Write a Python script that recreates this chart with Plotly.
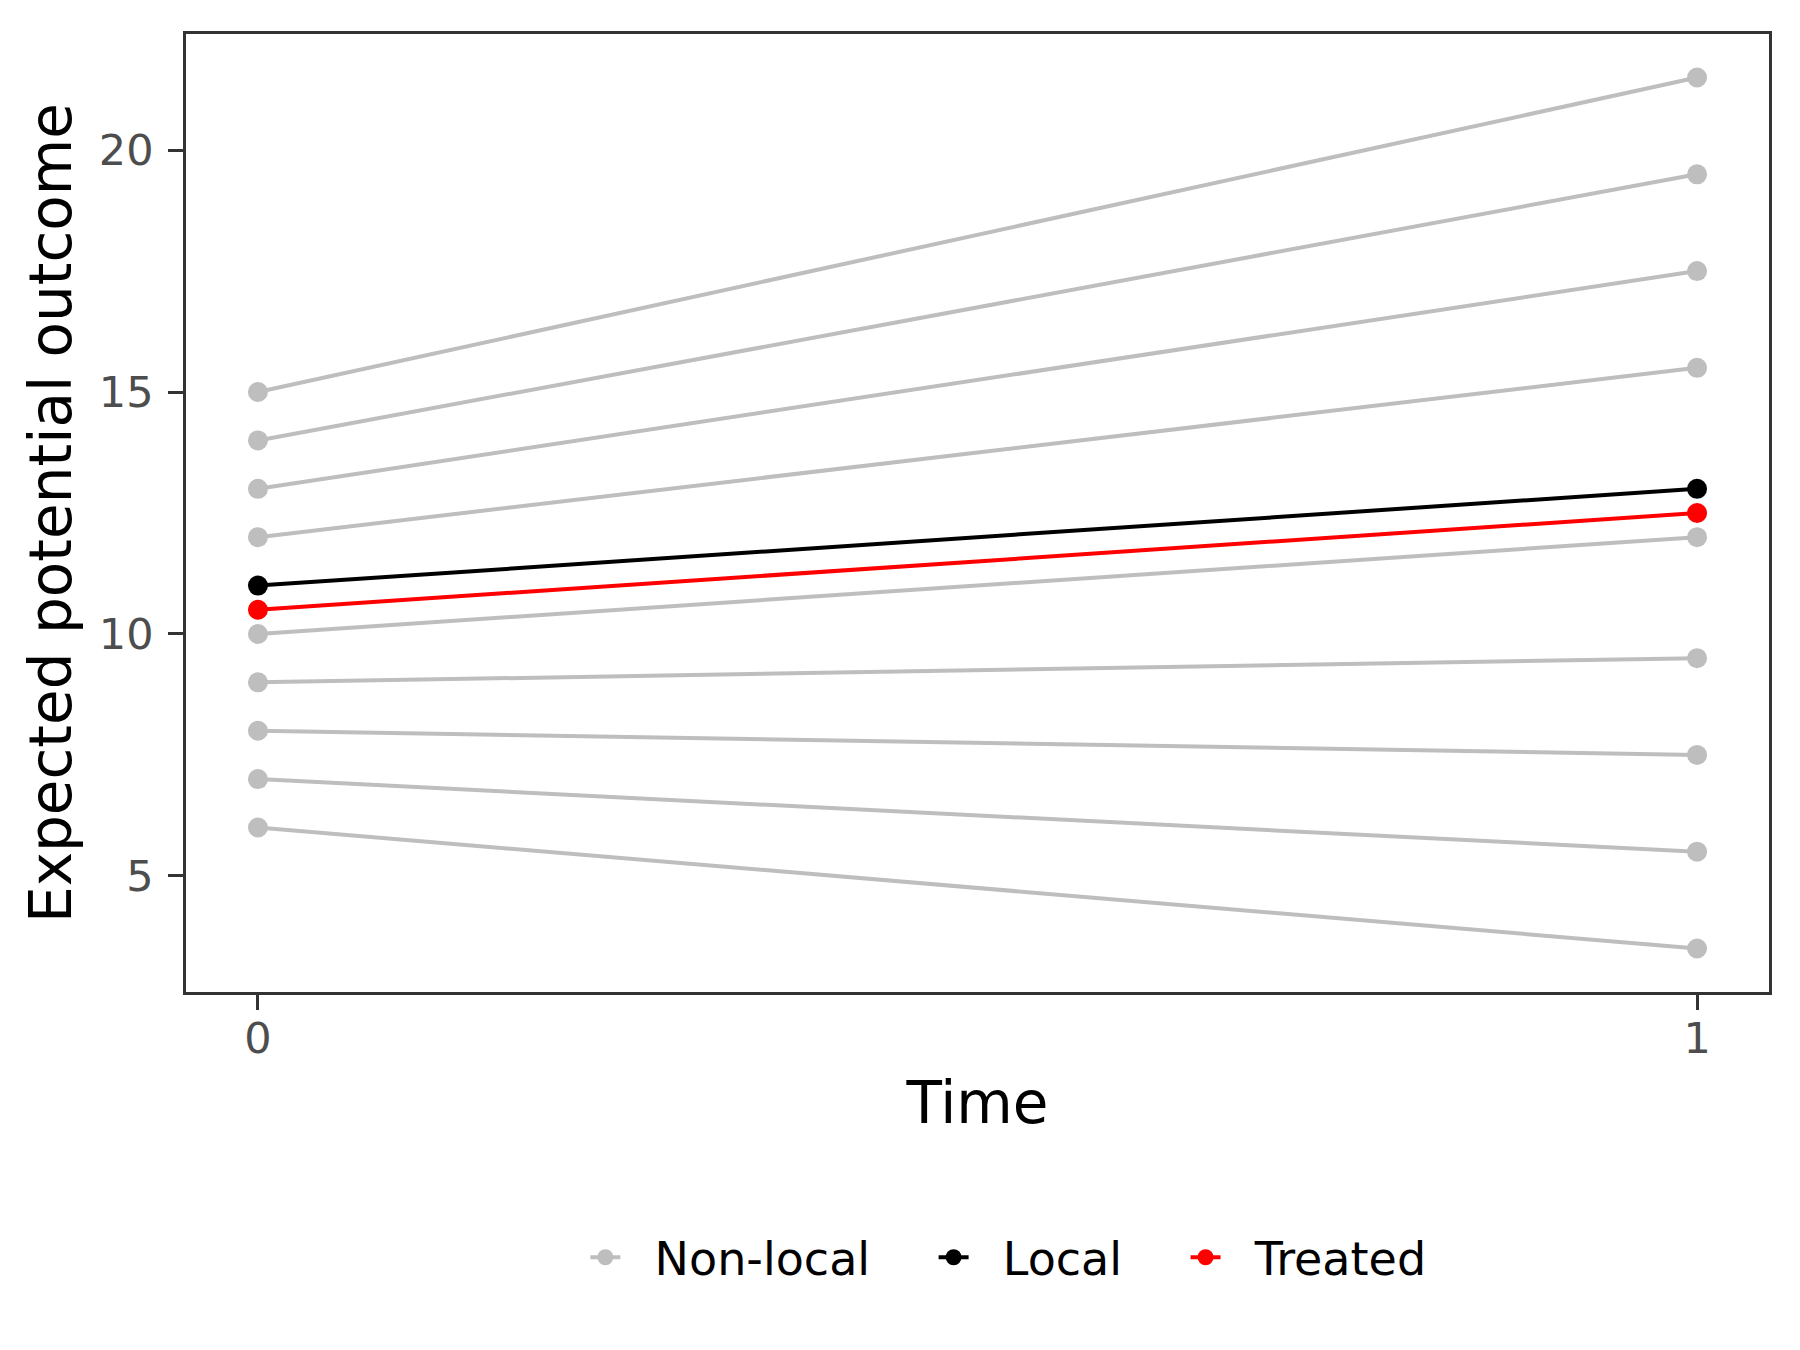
import plotly.graph_objects as go

time = [0, 1]
nonlocal_t0 = [15, 14, 13, 12, 10, 9, 8, 7, 6]
nonlocal_t1 = [21.5, 19.5, 17.5, 15.5, 12, 9.5, 7.5, 5.5, 3.5]
local_vals = [11, 13]
treated_vals = [10.5, 12.5]
y_ticks = [5, 10, 15, 20]
x_ticks = [0, 1]

FONT = "DejaVu Sans"
LW = 4
MS = 20
fig = go.Figure()

for i, (a, b) in enumerate(zip(nonlocal_t0, nonlocal_t1)):
    fig.add_trace(go.Scatter(
        x=time, y=[a, b], mode="lines+markers", name="  Non-local    ",
        legendgroup="nl", showlegend=(i == 0),
        line=dict(color="#BEBEBE", width=LW),
        marker=dict(color="#BEBEBE", size=MS),
    ))

fig.add_trace(go.Scatter(
    x=time, y=local_vals, mode="lines+markers", name="  Local    ",
    line=dict(color="black", width=LW), marker=dict(color="black", size=MS),
))
fig.add_trace(go.Scatter(
    x=time, y=treated_vals, mode="lines+markers", name="  Treated",
    line=dict(color="#FF0000", width=LW), marker=dict(color="#FF0000", size=MS),
))

fig.update_layout(
    width=1800, height=1350,
    paper_bgcolor="white", plot_bgcolor="white",
    margin=dict(l=178, r=39, t=26, b=366, autoexpand=False),
    font=dict(family=FONT, color="black"),
    legend=dict(
        orientation="h", x=0.5195, xanchor="center", y=-0.277, yanchor="middle",
        font=dict(size=46, family=FONT, color="black"),
        traceorder="normal",
    ),
    xaxis=dict(
        range=[-0.05, 1.05], tickvals=x_ticks, ticktext=[str(v) for v in x_ticks],
        showgrid=False, zeroline=False, automargin=False,
        showline=True, linecolor="#333333", linewidth=2.7, mirror=True,
        ticks="outside", ticklen=15, tickwidth=2.7, tickcolor="#333333",
        ticklabelstandoff=-8,
        tickfont=dict(size=43, family=FONT, color="#4D4D4D"),
        title=dict(text="Time", font=dict(size=58, family=FONT, color="black"), standoff=20),
    ),
    yaxis=dict(
        range=[2.6, 22.4], tickvals=y_ticks, ticktext=[str(v) for v in y_ticks],
        showgrid=False, zeroline=False, automargin=False,
        showline=True, linecolor="#333333", linewidth=2.7, mirror=True,
        ticks="outside", ticklen=15, tickwidth=2.7, tickcolor="#333333",
        ticklabelstandoff=6,
        tickfont=dict(size=43, family=FONT, color="#4D4D4D"),
        title=dict(text="Expected potential outcome", font=dict(size=58, family=FONT, color="black"), standoff=9),
    ),
)

fig.write_html("out.html")
